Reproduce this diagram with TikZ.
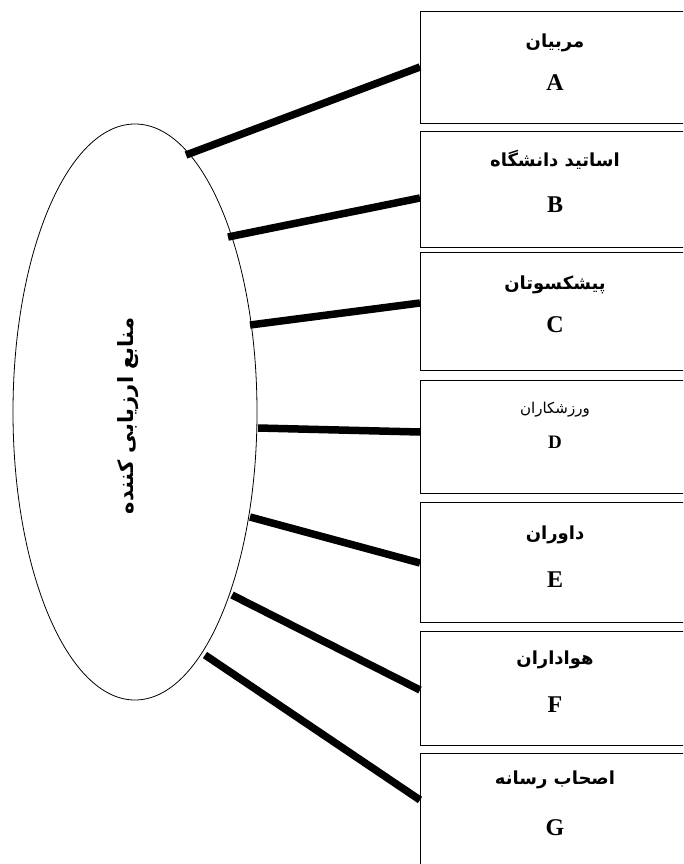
\documentclass[tikz,border=0pt]{standalone}
\usepackage{fontspec}
\setmainfont{Liberation Serif}
\newfontfamily\fa[Script=Arabic]{DejaVu Sans}
\TeXXeTstate=1
\usetikzlibrary{shapes.geometric}
\begin{document}
\begin{tikzpicture}[x=1pt,y=-1pt,
  box/.style={draw,line width=1.4pt,rectangle,minimum width=270pt,anchor=north west,inner sep=0pt},
  fatext/.style={font=\fa\bfseries\fontsize{18}{21}\selectfont},
  fasmall/.style={font=\fa\fontsize{15}{18}\selectfont},
  lettext/.style={font=\bfseries\fontsize{24}{26}\selectfont},
  letsmall/.style={font=\bfseries\fontsize{19}{21}\selectfont},
  spoke/.style={line width=7.5pt}]
\clip (0,0) rectangle (683,864);
\fill[white] (0,0) rectangle (683,864);
% central ellipse
\node[draw,ellipse,line width=0.8pt,minimum width=244pt,minimum height=576pt,inner sep=0pt] (e) at (135,412) {};
\node[font=\fa\bfseries\fontsize{21}{24}\selectfont,rotate=90] (et) at (128,416) {\beginR منابع ارزیابی کننده\endR};
% boxes
\node[box,minimum height=112pt] (A) at (420,11) {};
\node[box,minimum height=116pt] (B) at (420,131) {};
\node[box,minimum height=118pt] (C) at (420,252) {};
\node[box,minimum height=113pt] (D) at (420,380) {};
\node[box,minimum height=120pt] (E) at (420,502) {};
\node[box,minimum height=114pt] (F) at (420,631) {};
\node[box,minimum height=120pt] (G) at (420,753) {};
% labels
\node[fatext] (At) at (555,43) {\beginR مربیان\endR};
\node[lettext] (Al) at (555,83) {A};
\node[fatext] (Bt) at (555,160) {\beginR اساتید دانشگاه\endR};
\node[lettext] (Bl) at (555,205) {B};
\node[fatext] (Ct) at (555,285) {\beginR پیشکسوتان\endR};
\node[lettext] (Cl) at (555,325) {C};
\node[fasmall] (Dt) at (555,410) {\beginR ورزشکاران\endR};
\node[letsmall] (Dl) at (555,442) {D};
\node[fatext] (Et) at (555,535) {\beginR داوران\endR};
\node[lettext] (El) at (555,580) {E};
\node[fatext] (Ft) at (555,660) {\beginR هواداران\endR};
\node[lettext] (Fl) at (555,705) {F};
\node[fatext] (Gt) at (555,780) {\beginR اصحاب رسانه\endR};
\node[lettext] (Gl) at (555,828) {G};
% spoke end points
\coordinate (sA) at (186,155); \coordinate (tA) at (420,67);
\coordinate (sB) at (228,237); \coordinate (tB) at (420,198);
\coordinate (sC) at (250,325); \coordinate (tC) at (420,303);
\coordinate (sD) at (258,428); \coordinate (tD) at (420,432);
\coordinate (sE) at (250,517); \coordinate (tE) at (420,563);
\coordinate (sF) at (232,595); \coordinate (tF) at (420,690);
\coordinate (sG) at (205,655); \coordinate (tG) at (420,800);
\foreach \k in {A,B,C,D,E,F,G} {\draw[spoke] (s\k) -- (t\k);}
\end{tikzpicture}
\end{document}
